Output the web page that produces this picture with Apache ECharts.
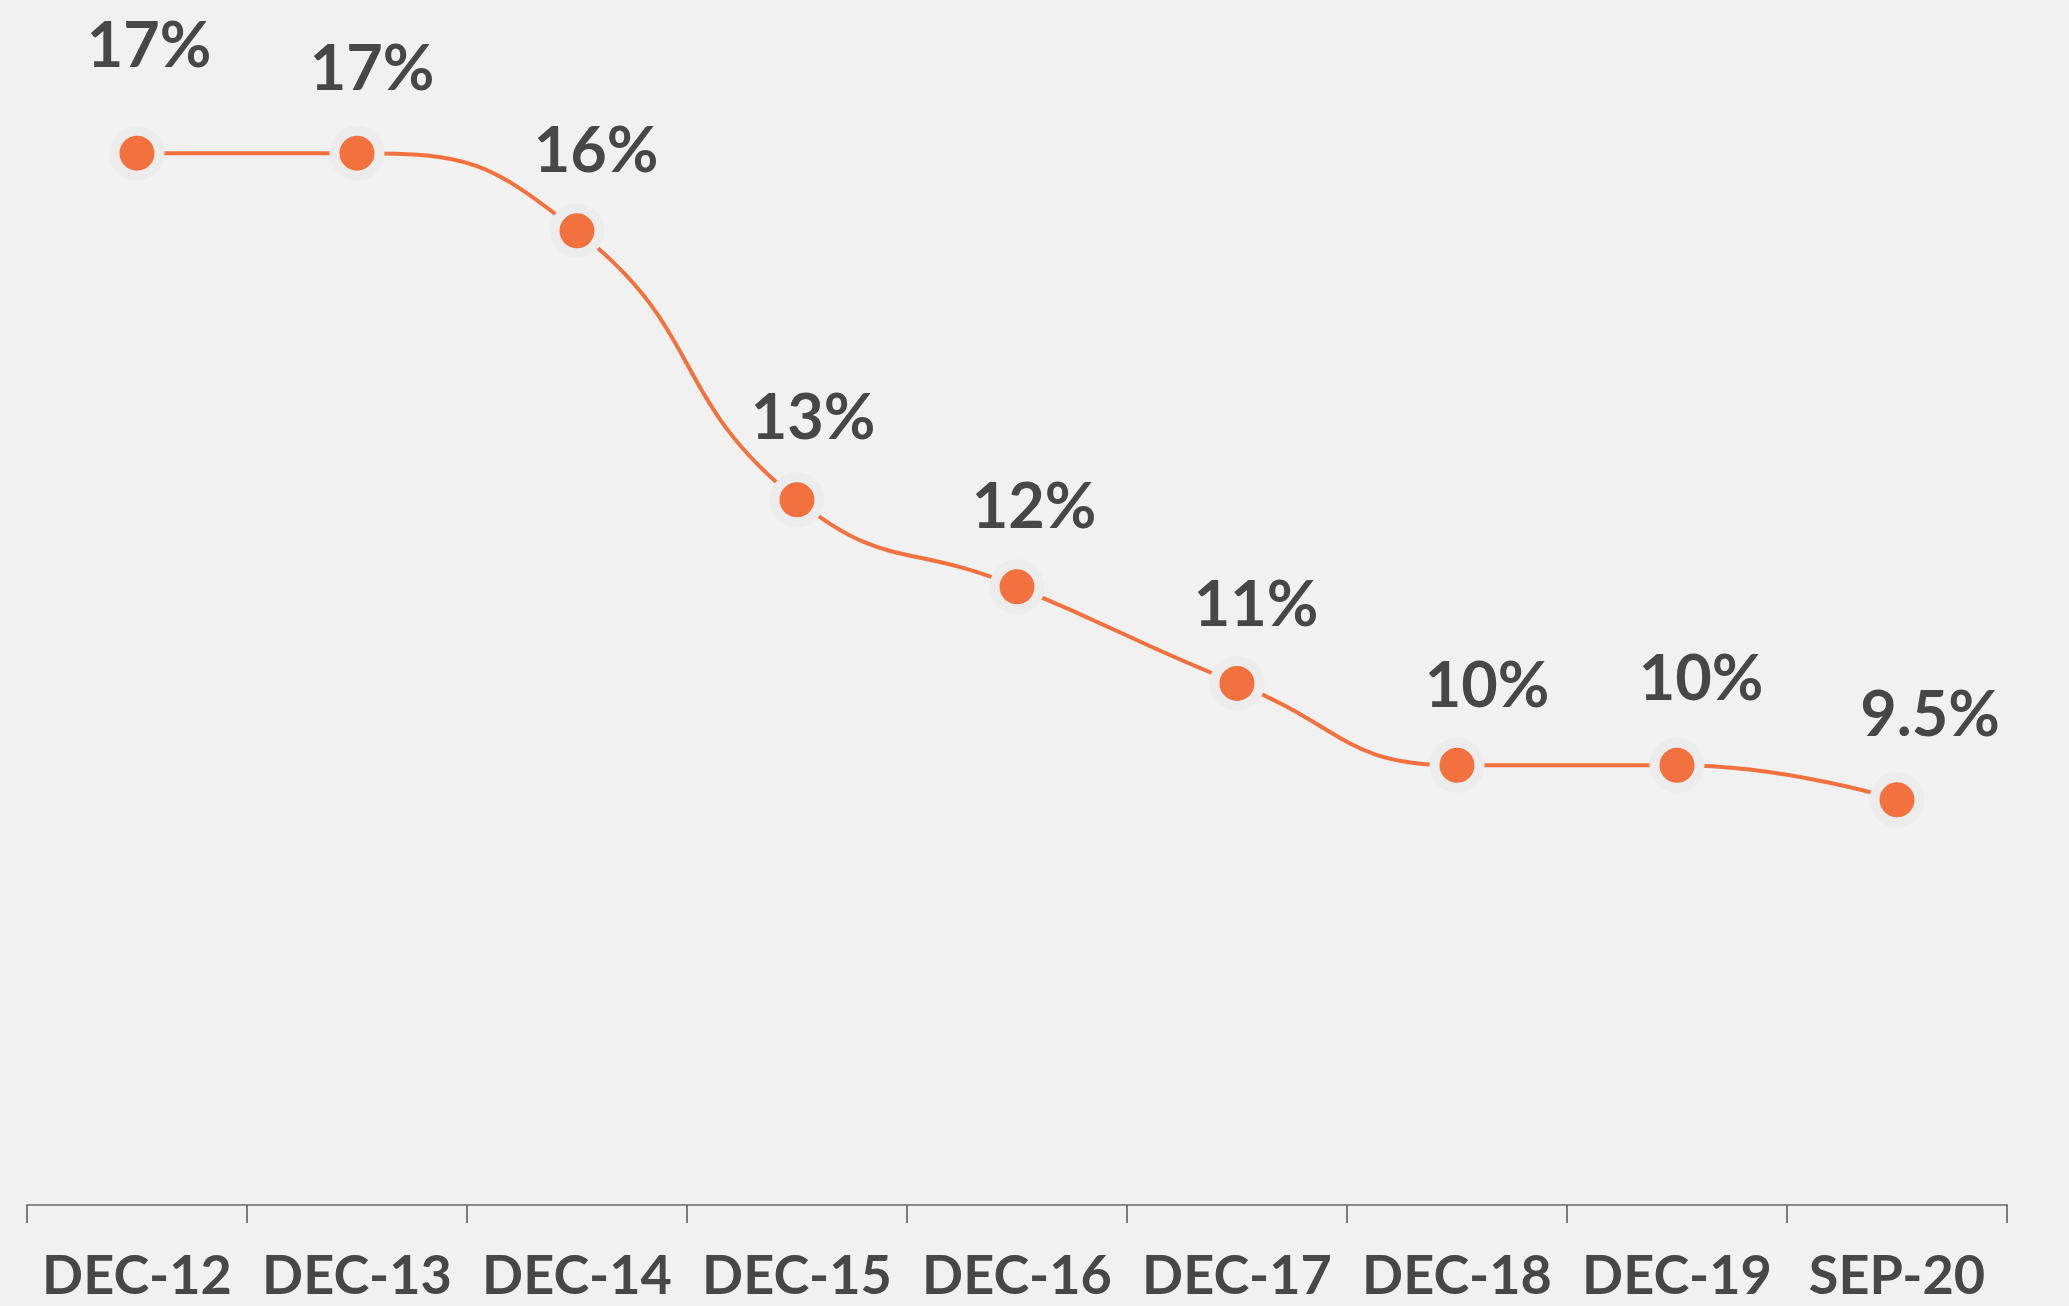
<!DOCTYPE html>
<html>
<head>
<meta charset="utf-8">
<script src="https://cdn.jsdelivr.net/npm/echarts@6/dist/echarts.min.js"></script>
<style>
  html, body { margin: 0; padding: 0; background: #f0f1f0; }
  #chart { width: 2069px; height: 1306px; }
</style>
</head>
<body>
<div id="chart"></div>
<script>
// ---- data ----
const categories = ['DEC-12', 'DEC-13', 'DEC-14', 'DEC-15', 'DEC-16', 'DEC-17', 'DEC-18', 'DEC-19', 'SEP-20'];
const values = [17.0, 17.0, 16.1, 12.98, 11.97, 10.85, 9.9, 9.9, 9.5];
const valueLabels = ['17%', '17%', '16%', '13%', '12%', '11%', '10%', '10%', '9.5%'];

// ---- styling ----
const ORANGE = '#f3713f';
const TEXT = '#474747';
const BG = '#f0f1f0';
const labelLift = [-48, -25, -20, -22, -20, -19, -20, -27, -25];
const labelShift = [12, 15, 19, 16, 17, 19, 30, 24, 33];

const chart = echarts.init(document.getElementById('chart'), null, { renderer: 'canvas' });

const seriesData = values.map((v, i) => ({
  value: v,
  label: { offset: [labelShift[i], labelLift[i]] }
}));

chart.setOption({
  backgroundColor: BG,
  animation: false,
  grid: { left: 27, right: 62, top: 67, bottom: 101 },
  xAxis: {
    type: 'category',
    data: categories,
    boundaryGap: true,
    axisLine: { show: true, lineStyle: { color: '#8a8a8a', width: 2 } },
    axisTick: { show: true, length: 18, lineStyle: { color: '#555555', width: 1.5 } },
    axisLabel: {
      color: TEXT,
      fontFamily: 'Lato',
      fontWeight: 'bold',
      fontSize: 54,
      lineHeight: 54,
      margin: 45,
      interval: 0
    }
  },
  yAxis: {
    type: 'value',
    min: 4.8,
    max: 18,
    show: false,
    splitLine: { show: false }
  },
  series: [{
    type: 'line',
    data: seriesData,
    smooth: 0.5,
    symbol: 'circle',
    symbolSize: 45,
    lineStyle: { color: ORANGE, width: 4 },
    itemStyle: { color: ORANGE, borderColor: '#ececec', borderWidth: 10 },
    label: {
      show: true,
      position: 'top',
      distance: 0,
      color: TEXT,
      fontFamily: 'Lato',
      fontWeight: 'bold',
      fontSize: 63,
      lineHeight: 63,
      formatter: (p) => valueLabels[p.dataIndex]
    }
  }]
});
</script>
</body>
</html>
